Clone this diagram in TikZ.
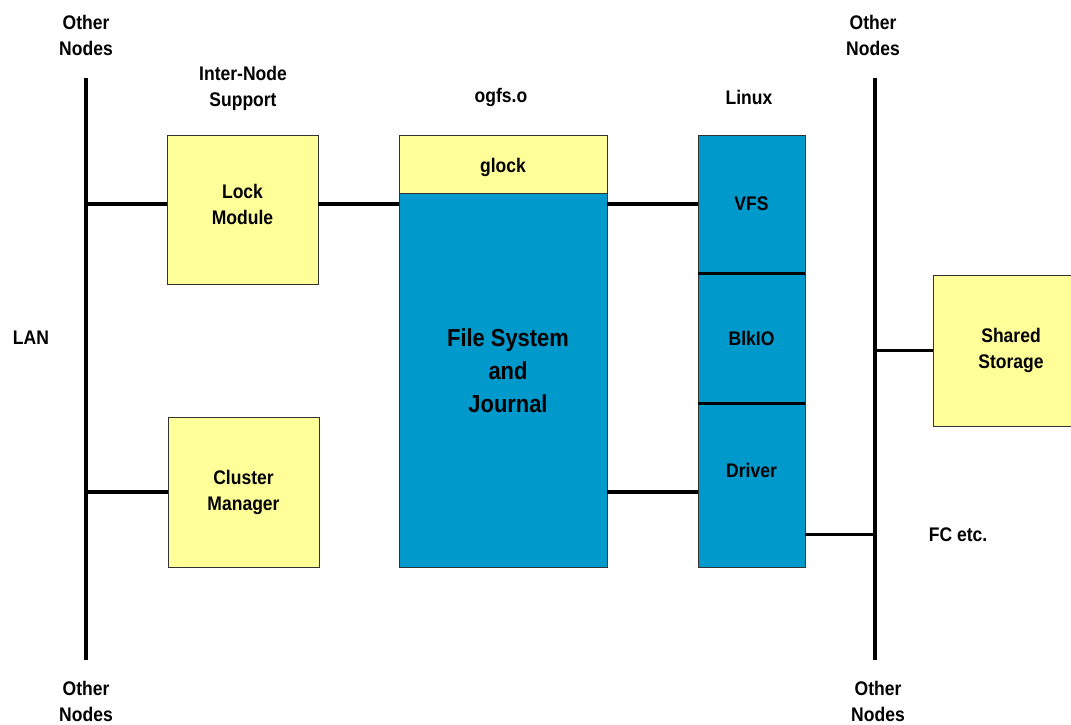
\documentclass[tikz,border=0pt]{standalone}
\usepackage{fontspec}
\setmainfont{Liberation Sans}[FakeStretch=0.89]
\usetikzlibrary{positioning}
\definecolor{boxyellow}{HTML}{FFFF99}
\definecolor{boxblue}{HTML}{0099CC}

\begin{document}
\begin{tikzpicture}[x=0.03cm, y=-0.03cm,
    txt/.style={font=\fontsize{16.8}{22.2}\selectfont\bfseries, align=center, inner sep=0pt},
    bigtxt/.style={font=\fontsize{21}{28.2}\selectfont\bfseries, align=center, inner sep=0pt},
    ybox/.style={draw=black!80, line width=0.7pt, fill=boxyellow, txt, inner sep=0pt},
    bbox/.style={draw=black!80, line width=0.7pt, fill=boxblue, txt, inner sep=0pt},
    wire/.style={line width=2.8pt}]
    \useasboundingbox (0,0) rectangle (1071,724);
    \coordinate (lantop) at (86,78);
    \coordinate (lanbot) at (86,660);
    \coordinate (santop) at (875,78);
    \coordinate (sanbot) at (875,660);
    \draw[wire] (lantop) -- (lanbot);
    \draw[wire] (santop) -- (sanbot);
    \node[ybox, minimum width=4.53cm, minimum height=4.47cm, label={[txt, yshift=0.15cm]center:Lock\\Module}] (lock) at (242.5,209.5) {};
    \node[ybox, minimum width=4.53cm, minimum height=4.5cm] (cluster) at (243.5,492) {Cluster\\Manager};
    \node[ybox, minimum width=6.24cm, minimum height=1.74cm, label={[txt, yshift=-0.1cm]center:glock}] (glock) at (503,164) {};
    \node[bbox, minimum width=6.24cm, minimum height=11.22cm, label={[bigtxt, xshift=0.15cm, yshift=0.27cm]center:File System\\and\\Journal}] (fs) at (503,380) {};
    \node[bbox, minimum width=3.21cm, minimum height=4.14cm] (vfs) at (751.5,204) {VFS};
    \node[bbox, minimum width=3.21cm, minimum height=3.9cm] (blkio) at (751.5,338) {BlkIO};
    \node[bbox, minimum width=3.21cm, minimum height=4.92cm, label={[txt, yshift=0.45cm]center:Driver}] (driver) at (751.5,485) {};
    \node[ybox, minimum width=4.68cm, minimum height=4.53cm] (storage) at (1011,350.5) {Shared\\Storage};
    \draw[wire] (vfs.south west) -- (vfs.south east);
    \draw[wire] (blkio.south west) -- (blkio.south east);
    \draw[wire] (lantop |- vfs.west) -- (lock.west |- vfs.west);
    \draw[wire] (lock.east |- vfs.west) -- (fs.west |- vfs.west);
    \draw[wire] (fs.east |- vfs.west) -- (vfs.west);
    \draw[wire] (lantop |- cluster.west) -- (cluster.west);
    \draw[wire] (fs.east |- cluster.east) -- (driver.west |- cluster.east);
    \draw[wire] (driver.south east) ++(0,-33) coordinate (fcend) -- (fcend -| santop);
    \draw[wire] (storage.west) -- (storage.west -| santop);
    \node[txt] (othertl) at (86,35) {Other\\Nodes};
    \node[txt] (otherbl) at (86,701) {Other\\Nodes};
    \node[txt] (othertr) at (873,35) {Other\\Nodes};
    \node[txt] (otherbr) at (878,701) {Other\\Nodes};
    \node[txt] (lan) at (31,338) {LAN};
    \node[txt] (internode) at (243,88) {Inter-Node\\Support};
    \node[txt] (ogfs) at (501,97) {ogfs.o};
    \node[txt] (linux) at (749,97) {Linux};
    \node[txt] (fc) at (958,535) {FC etc.};
\end{tikzpicture}
\end{document}
